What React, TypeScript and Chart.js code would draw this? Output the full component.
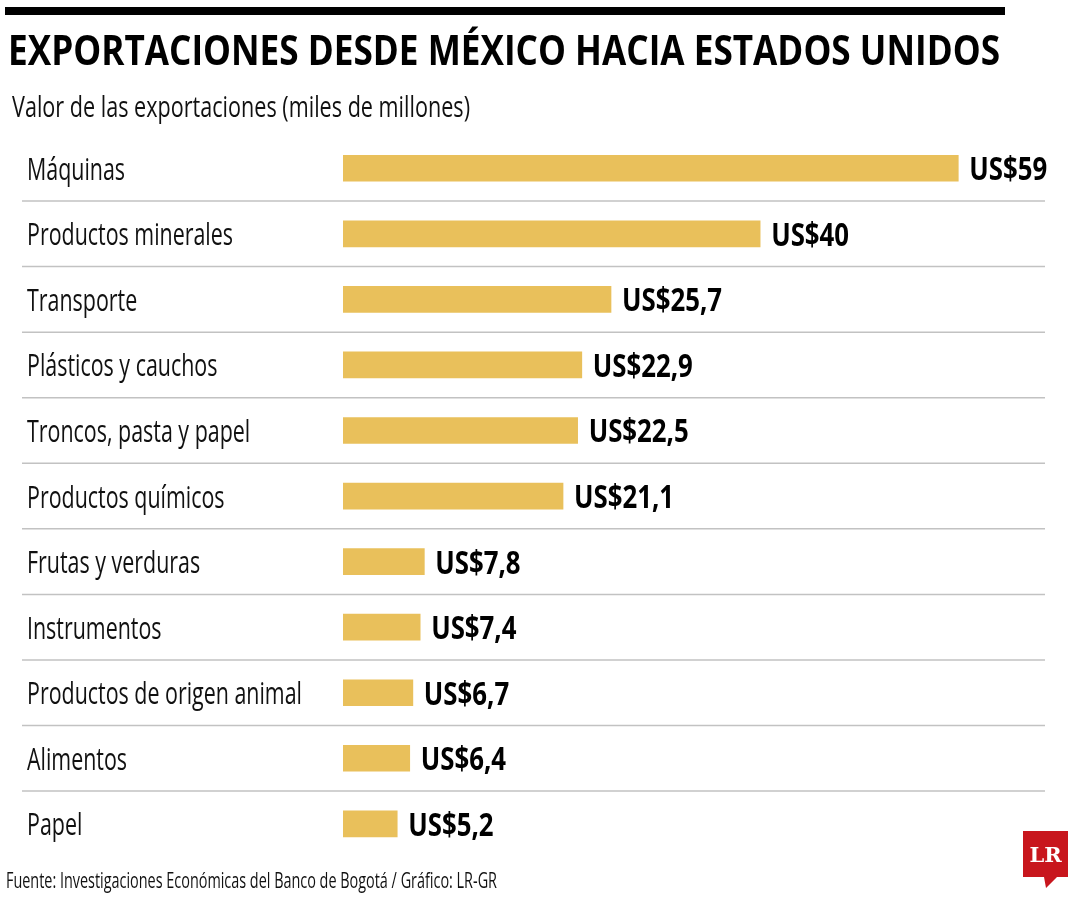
import React, { useEffect, useRef } from "react";
import { Chart, registerables } from "chart.js";

Chart.register(...registerables);

const TITLE = "EXPORTACIONES DESDE MÉXICO HACIA ESTADOS UNIDOS";
const SUBTITLE = "Valor de las exportaciones (miles de millones)";
const SOURCE = "Fuente: Investigaciones Económicas del Banco de Bogotá / Gráfico: LR-GR";

const categories = [
  "Máquinas",
  "Productos minerales",
  "Transporte",
  "Plásticos y cauchos",
  "Troncos, pasta y papel",
  "Productos químicos",
  "Frutas y verduras",
  "Instrumentos",
  "Productos de origen animal",
  "Alimentos",
  "Papel",
];

const values = [59, 40, 25.7, 22.9, 22.5, 21.1, 7.8, 7.4, 6.7, 6.4, 5.2];

const BAR_COLOR = "#E9C05B";

function fitFill(
  ctx: CanvasRenderingContext2D,
  text: string,
  x: number,
  y: number,
  font: string,
  sx: number
) {
  ctx.save();
  ctx.font = font;
  ctx.translate(x, y);
  ctx.scale(sx, 1);
  ctx.fillText(text, 0, 0);
  ctx.restore();
}

function scaleFor(ctx: CanvasRenderingContext2D, text: string, font: string, target: number) {
  ctx.save();
  ctx.font = font;
  const w = ctx.measureText(text).width;
  ctx.restore();
  return w > 0 ? target / w : 1;
}

const decorPlugin = {
  id: "decor",
  beforeDraw(chart: any) {
    const ctx: CanvasRenderingContext2D = chart.ctx;
    ctx.save();
    ctx.fillStyle = "#ffffff";
    ctx.fillRect(0, 0, chart.width, chart.height);

    // top black rule
    ctx.fillStyle = "#000000";
    ctx.fillRect(5, 7, 1000, 8);

    ctx.textAlign = "left";
    ctx.textBaseline = "alphabetic";

    // title
    const tFont = "700 41px 'Open Sans'";
    fitFill(ctx, TITLE, 8, 65, tFont, scaleFor(ctx, TITLE, tFont, 992));

    // subtitle
    const sFont = "400 30px 'Open Sans'";
    ctx.fillStyle = "#111111";
    fitFill(ctx, SUBTITLE, 12, 117, sFont, scaleFor(ctx, SUBTITLE, sFont, 458));

    // source
    const fFont = "400 22px 'Open Sans'";
    fitFill(ctx, SOURCE, 6, 888, fFont, scaleFor(ctx, SOURCE, fFont, 491));

    // logo
    ctx.fillStyle = "#C8161D";
    ctx.beginPath();
    ctx.moveTo(1023, 831);
    ctx.lineTo(1068, 831);
    ctx.lineTo(1068, 877);
    ctx.lineTo(1057, 877);
    ctx.lineTo(1046, 888);
    ctx.lineTo(1044, 877);
    ctx.lineTo(1023, 877);
    ctx.closePath();
    ctx.fill();
    ctx.fillStyle = "#ffffff";
    ctx.textAlign = "center";
    ctx.font = "700 21px 'DejaVu Serif'";
    ctx.fillText("LR", 1045.5, 862);
    ctx.restore();
  },
  afterDatasetsDraw(chart: any) {
    const ctx: CanvasRenderingContext2D = chart.ctx;
    const y = chart.scales.y;
    const x = chart.scales.x;
    ctx.save();

    // separators
    ctx.strokeStyle = "#c2c2c2";
    ctx.lineWidth = 1.5;
    for (let i = 0; i < categories.length - 1; i++) {
      const yy = (y.getPixelForValue(i) + y.getPixelForValue(i + 1)) / 2;
      ctx.beginPath();
      ctx.moveTo(22, yy);
      ctx.lineTo(1045, yy);
      ctx.stroke();
    }

    // category labels
    const lFont = "400 31px 'Open Sans'";
    const lScale = scaleFor(ctx, "Productos de origen animal", lFont, 275);
    ctx.fillStyle = "#111111";
    ctx.textAlign = "left";
    ctx.textBaseline = "alphabetic";
    categories.forEach((c, i) => {
      const cy = y.getPixelForValue(i);
      fitFill(ctx, c, 27, cy + 11.5, lFont, lScale);
    });

    // value labels
    const vFont = "700 33px 'Open Sans'";
    const vScale = scaleFor(ctx, "US$25,7", vFont, 100);
    ctx.fillStyle = "#000000";
    values.forEach((v, i) => {
      const cy = y.getPixelForValue(i);
      const label = "US$" + String(v).replace(".", ",");
      fitFill(ctx, label, x.getPixelForValue(v) + 11, cy + 12, vFont, vScale);
    });
    ctx.restore();
  },
};

export default function App() {
  const ref = useRef<HTMLCanvasElement | null>(null);
  useEffect(() => {
    if (!ref.current) return;
    const chart = new Chart(ref.current, {
      type: "bar",
      data: {
        labels: categories,
        datasets: [
          {
            data: values,
            backgroundColor: BAR_COLOR,
            borderWidth: 0,
            barThickness: 26,
          },
        ],
      },
      options: {
        indexAxis: "y",
        responsive: false,
        animation: false,
        layout: { padding: { left: 343, right: 7, top: 135.5, bottom: 43.4 } },
        plugins: {
          legend: { display: false },
          tooltip: { enabled: false },
          title: { display: false },
        },
        scales: {
          x: { display: false, min: 0, max: 70 },
          y: { display: false, offset: true },
        },
      },
      plugins: [decorPlugin],
    });
    return () => chart.destroy();
  }, []);
  return (
    <div style={{ position: "fixed", left: 0, top: 0, width: 1080, height: 900, background: "#fff" }}>
      <canvas ref={ref} width={1080} height={900} style={{ display: "block" }} />
    </div>
  );
}
